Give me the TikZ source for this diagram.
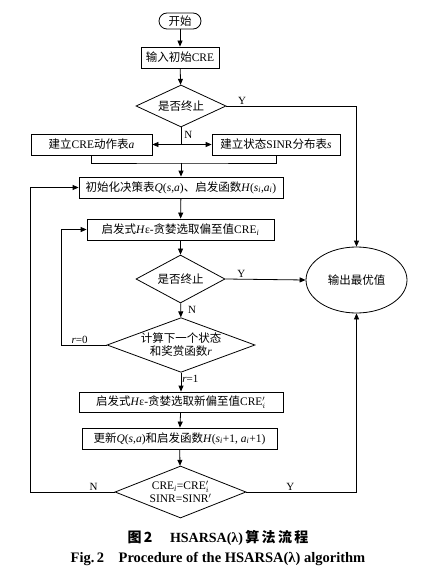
\documentclass[tikz,border=0pt]{standalone}
\usepackage{fontspec}
\setmainfont{Liberation Serif}
\newfontfamily\cjk{Noto Sans CJK SC}
\usetikzlibrary{arrows.meta,shapes.geometric}
\newcommand{\zh}[1]{{\cjk #1}}
\tikzset{
	box/.style={draw, line width=0.8pt, inner sep=0pt, minimum height=21pt, font=\fontsize{11.5}{13}\selectfont},
	decide/.style={draw, diamond, line width=0.8pt, inner sep=0pt, aspect=2.6, align=center, font=\fontsize{11.5}{13}\selectfont},
	flow/.style={line width=0.8pt, -{Triangle[length=6pt,width=5pt]}},
	link/.style={line width=0.8pt},
	lbl/.style={font=\fontsize{11}{12}\selectfont, inner sep=1pt},
}

\begin{document}
\begin{tikzpicture}[x=1pt, y=-1pt]
		%%%%% START %%%%%
		\useasboundingbox (0, 0) rectangle (441, 572);
		
		\node[box, rounded corners=8pt, minimum width=42pt, minimum height=16pt] (start) at (180, 21) {\zh{开始}};
		\node[box, minimum width=78pt] (input) at (180, 57.5) {\zh{输入初始}CRE};
		\node[decide, minimum width=90pt, minimum height=42pt] (stop1) at (181, 106) {\zh{是否终止}};
		
		\node[box, minimum width=121pt] (tabA) at (91.5, 144.5) {\zh{建立}CRE\zh{动作表}\textit{a}};
		\node[box, minimum width=128pt] (tabS) at (276, 144.5) {\zh{建立状态}SINR\zh{分布表}\textit{s}};
		\coordinate (split) at (181, 144.5);
		\coordinate (merge) at (181, 163);
		
		\node[box, minimum width=204pt] (init) at (181, 187.5) {\zh{初始化决策表}\textit{Q}(\textit{s},\textit{a})\zh{、启发函数}\textit{H}(\textit{s}\textsubscript{\textit{i}},\textit{a}\textsubscript{\textit{i}})};
		\node[box, minimum width=187pt] (heur1) at (180.5, 229.5) {\zh{启发式}\textit{H}ε-\zh{贪婪选取偏至值}CRE\textsubscript{\textit{i}}};
		\node[decide, minimum width=89pt, minimum height=48pt] (stop2) at (180.5, 279) {\zh{是否终止}};
		\node[draw, ellipse, line width=0.8pt, minimum width=101pt, minimum height=66pt, font=\fontsize{11.5}{13}\selectfont] (best) at (356.5, 280) {\zh{输出最优值}};
		
		\node[decide, minimum width=148pt, minimum height=54pt] (calc) at (181, 345) {\zh{计算下一个状态}\\\zh{和奖赏函数}\textit{r}};
		\node[box, minimum width=204pt, minimum height=20pt] (heur2) at (181, 402) {\zh{启发式}\textit{H}ε-\zh{贪婪选取新偏至值}CRE$'_i$};
		\node[box, minimum width=195pt] (upd) at (179.5, 438.5) {\zh{更新}\textit{Q}(\textit{s},\textit{a})\zh{和启发函数}\textit{H}(\textit{s}\textsubscript{\textit{i}}+1, \textit{a}\textsubscript{\textit{i}}+1)};
		\node[decide, minimum width=131pt, minimum height=52pt] (conv) at (180.5, 492) {CRE\textsubscript{\textit{i}}=CRE$'_i$\\SINR=SINR$'$};
		
		% connectors
		\draw[flow] (start) -- (input);
		\draw[flow] (input) -- (stop1);
		\draw[flow] (stop1.east) -| (best.north) node[lbl, pos=0.06, above] {Y};
		\draw[link] (stop1.south) -- (split) node[lbl, pos=0.45, right=2pt] {N};
		\draw[flow] (split) -- (tabA.east);
		\draw[flow] (split) -- (tabS.west);
		\draw[link] (tabA.south) |- (merge) -| (tabS.south);
		\draw[flow] (merge) -- (init);
		\draw[flow] (init) -- (heur1);
		\draw[flow] (heur1) -- (stop2);
		\draw[flow] (stop2.east) -- (best.west) node[lbl, pos=0.2, above] {Y};
		\draw[flow] (stop2) -- (calc) node[lbl, midway, right=6pt] {N};
		\draw[flow] (calc.west) -- ++(-45, 0) node[lbl, pos=0.6, above] {\textit{r}=0} |- (heur1.west);
		\draw[flow] (calc) -- (heur2) node[lbl, pos=0.3, right] {\textit{r}=1};
		\draw[flow] (heur2) -- (upd);
		\draw[flow] (upd) -- (conv);
		\draw[flow] (conv.west) -- ++(-84, 0) node[lbl, pos=0.25, above] {N} |- (init.west);
		\draw[flow] (conv.east) -| (best.south) node[lbl, pos=0.2, above] {Y};
		
		% caption
		\node[font=\fontsize{14}{16}\selectfont\bfseries] (capzh) at (218, 538) {\zh{图\,2}\quad\ HSARSA(λ)\,\zh{算\,法\,流\,程}};
		\node[font=\fontsize{14.5}{16}\selectfont\bfseries] (capen) at (218, 559) {Fig.\,2\quad Procedure of the HSARSA(λ) algorithm};
		%%%%% END %%%%%
\end{tikzpicture}
\end{document}
